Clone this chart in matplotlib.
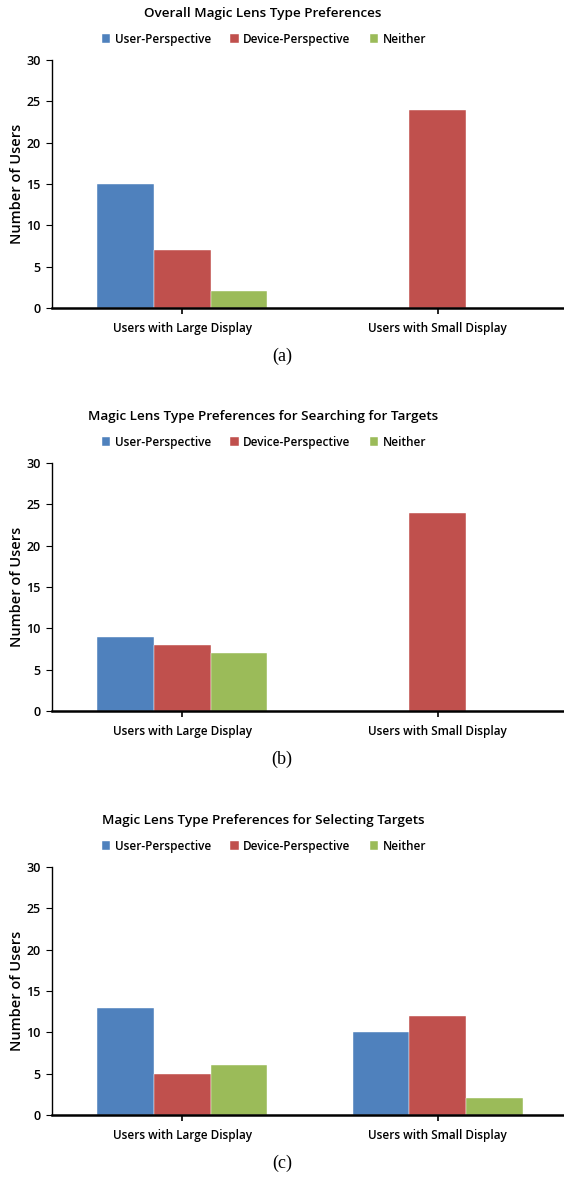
import matplotlib.pyplot as plt
import numpy as np
from matplotlib import rcParams

rcParams['font.family'] = 'Open Sans'

categories = ['Users with Large Display', 'Users with Small Display']
series = ['User-Perspective', 'Device-Perspective', 'Neither']
colors = ['#4F81BD', '#C0504D', '#9BBB59']

titles = ['Overall Magic Lens Type Preferences',
          'Magic Lens Type Preferences for Searching for Targets',
          'Magic Lens Type Preferences for Selecting Targets']
captions = ['(a)', '(b)', '(c)']

# values per panel: [user, device, neither] for [large, small]
overall_user = [15, 0]
overall_device = [7, 24]
overall_neither = [2, 0]

search_user = [9, 0]
search_device = [8, 24]
search_neither = [7, 0]

select_user = [13, 10]
select_device = [5, 12]
select_neither = [6, 2]

panels = [
    [overall_user, overall_device, overall_neither],
    [search_user, search_device, search_neither],
    [select_user, select_device, select_neither],
]

fig = plt.figure(figsize=(5.64, 11.77), dpi=100)
bottoms = [0.7383, 0.3959, 0.0527]
height = 0.2107
left = 0.0922
width = 0.906

x = np.arange(len(categories))
bw = 0.222

for i, data in enumerate(panels):
    ax = fig.add_axes([left, bottoms[i], width, height])
    for j, vals in enumerate(data):
        ax.bar(x + (j - 1) * bw, vals, width=bw, color=colors[j], label=series[j],
               edgecolor='white', linewidth=0.3)
    ax.set_xlim(-0.51, 1.49)
    ax.set_ylim(0, 30)
    ax.set_yticks(range(0, 31, 5))
    ax.set_xticks(x, labels=categories)
    ax.spines['top'].set_visible(False)
    ax.spines['right'].set_visible(False)
    ax.spines['bottom'].set_linewidth(1.8)
    ax.spines['left'].set_linewidth(1.0)
    ax.tick_params(axis='y', length=4, width=0.8, labelsize=9, pad=4)
    ax.tick_params(axis='x', length=4, width=1.2, labelsize=8.5, pad=6)
    for lab in ax.get_yticklabels() + ax.get_xticklabels():
        lab.set_fontweight('semibold')
    ax.set_ylabel('Number of Users', fontsize=10.5, fontweight='semibold', labelpad=2)
    ax.set_title(titles[i], fontsize=9.7, fontweight='semibold', pad=31, x=0.413)
    ax.legend(loc='lower center', bbox_to_anchor=(0.415, 1.015), ncol=3, frameon=False,
              handlelength=0.7, handleheight=0.7, handletextpad=0.4,
              columnspacing=1.6, prop={'weight': 'semibold', 'size': 8.5})
    fig.text(0.5, bottoms[i] - 0.041, captions[i], ha='center', va='center',
             fontsize=13, family='Liberation Serif')

fig.savefig('out.png', dpi=100)
